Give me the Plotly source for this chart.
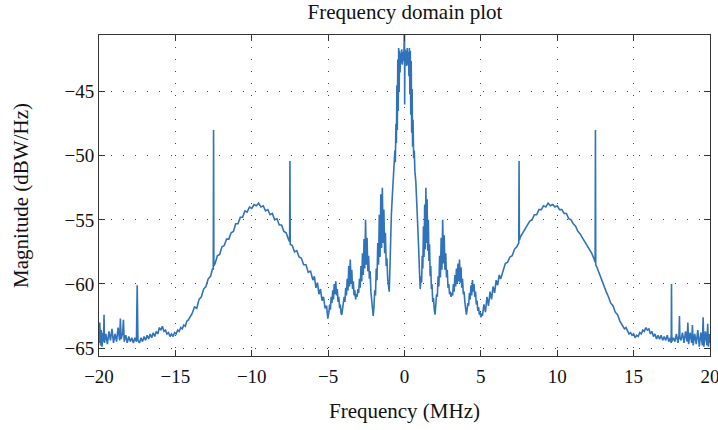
import plotly.graph_objects as go

# ---- data (frequency in MHz, magnitude in dBW/Hz) ----
freq_floor_left = [-20.0, -19.95, -19.9, -19.85, -19.8, -19.75, -19.7, -19.67, -19.64, -19.55,
                   -19.45, -19.35, -19.25, -19.15, -19.05, -18.95, -18.85, -18.75, -18.65, -18.6,
                   -18.55, -18.45, -18.4, -18.35, -18.25, -18.15, -18.05, -17.95, -17.85, -17.75,
                   -17.65, -17.55, -17.5, -17.45, -17.35, -17.25, -17.15, -17.05, -16.95, -16.85,
                   -16.75, -16.65, -16.55, -16.45, -16.35, -16.25, -16.15, -16.05, -15.95, -15.85,
                   -15.75, -15.65, -15.55, -15.45, -15.35, -15.25, -15.15, -15.05, -14.95, -14.85,
                   -14.75, -14.65, -14.55, -14.45, -14.35, -14.25, -14.15]
mag_floor_left = [-64.6, -63.0, -64.8, -63.6, -64.9, -63.8, -64.5, -62.4, -64.6, -63.9,
                  -64.7, -63.7, -64.4, -63.5, -64.6, -63.9, -64.5, -63.4, -64.4, -62.7,
                  -64.3, -63.8, -62.8, -64.5, -64.0, -64.6, -64.1, -64.5, -64.2, -64.6,
                  -64.2, -64.5, -60.1, -64.4, -64.6, -64.2, -64.5, -64.1, -64.4, -64.0,
                  -64.3, -63.9, -64.2, -63.8, -64.1, -63.7, -63.9, -63.4, -63.6, -63.3,
                  -63.7, -63.6, -63.9, -63.8, -64.1, -63.9, -64.1, -63.8, -63.9, -63.6,
                  -63.7, -63.4, -63.5, -63.2, -63.3, -62.9, -62.8]

freq_hump_left = [-14.05, -13.9, -13.75, -13.6, -13.45, -13.3, -13.15, -13.0, -12.85, -12.7,
                  -12.56, -12.52, -12.5, -12.48, -12.4, -12.25, -12.1, -11.95, -11.8, -11.65,
                  -11.5, -11.35, -11.2, -11.05, -10.9, -10.75, -10.6, -10.45, -10.3, -10.15,
                  -10.0, -9.85, -9.7, -9.55, -9.4, -9.25, -9.1, -8.95, -8.8, -8.65,
                  -8.5, -8.35, -8.2, -8.05, -7.9, -7.75, -7.6, -7.52, -7.5, -7.48,
                  -7.35, -7.2, -7.05, -6.9, -6.75, -6.6, -6.45, -6.3, -6.15, -6.0,
                  -5.9, -5.8, -5.7, -5.6, -5.5, -5.4, -5.3, -5.2, -5.1, -5.02]
mag_hump_left = [-62.6, -62.3, -61.8, -61.9, -61.2, -61.0, -60.4, -60.2, -59.6, -59.4,
                 -58.8, -58.9, -48.0, -58.6, -58.4, -57.8, -57.7, -57.1, -57.0, -56.5,
                 -56.5, -56.0, -55.9, -55.3, -55.3, -54.8, -54.8, -54.3, -54.4, -54.0,
                 -54.1, -53.8, -53.9, -53.7, -54.0, -53.9, -54.3, -54.2, -54.6, -54.5,
                 -55.0, -54.9, -55.4, -55.4, -55.9, -56.0, -56.5, -56.7, -50.4, -56.9,
                 -57.0, -57.5, -57.4, -57.9, -58.0, -58.5, -58.5, -59.1, -59.0, -59.7,
                 -59.4, -60.3, -59.9, -60.8, -60.4, -61.3, -61.0, -61.9, -61.7, -62.7]

freq_side_left = [-4.95, -4.9, -4.85, -4.8, -4.75, -4.7, -4.65, -4.6, -4.55, -4.5,
                  -4.45, -4.4, -4.35, -4.3, -4.25, -4.2, -4.15, -4.1,
                  -4.05, -4.0, -3.95, -3.9, -3.85, -3.8, -3.75, -3.7, -3.65, -3.6,
                  -3.55, -3.5, -3.45, -3.4, -3.35, -3.3, -3.25, -3.2, -3.15, -3.1,
                  -3.05, -3.0, -2.95, -2.9, -2.85, -2.8, -2.75, -2.7, -2.65, -2.6,
                  -2.55, -2.5, -2.45, -2.4, -2.35, -2.3, -2.25, -2.2, -2.15, -2.1, -2.05,
                  -2.0, -1.95, -1.9, -1.85, -1.8, -1.75, -1.7, -1.65, -1.6, -1.55,
                  -1.5, -1.45, -1.4, -1.35, -1.3, -1.25, -1.2, -1.15, -1.1, -1.05]
mag_side_left = [-62.2, -61.6, -62.0, -61.0, -61.5, -60.5, -61.2, -60.0, -60.8, -59.8,
                 -60.9, -60.4, -61.4, -61.0, -61.9, -61.6, -62.3, -62.4,
                 -61.9, -61.5, -61.0, -61.4, -60.3, -60.9, -59.6, -60.5, -58.6, -60.2,
                 -58.1, -60.0, -58.9, -60.4, -59.8, -60.9, -60.5, -61.2, -60.8, -61.0,
                 -60.4, -60.7, -59.6, -60.3, -58.6, -59.8, -57.6, -59.3, -56.5, -58.8,
                 -55.0, -58.5, -56.4, -59.0, -57.8, -59.6, -59.0, -60.6, -61.5, -62.0, -62.5,
                 -61.8, -60.5, -60.9, -58.8, -59.7, -56.8, -58.5, -54.6, -57.9, -53.0,
                 -57.2, -52.5, -56.8, -54.2, -57.6, -56.0, -58.6, -58.0, -59.6, -60.0]

freq_main = [-1.0, -0.96, -0.92, -0.86, -0.8, -0.74, -0.68, -0.63, -0.6, -0.56,
             -0.53, -0.5, -0.47, -0.44, -0.41, -0.38, -0.35, -0.32, -0.29, -0.26,
             -0.22, -0.18, -0.14, -0.1, -0.06, -0.03, -0.01, 0.0, 0.01, 0.03,
             0.06, 0.1, 0.14, 0.18, 0.22, 0.26, 0.29, 0.32, 0.35, 0.38,
             0.41, 0.44, 0.47, 0.5, 0.53, 0.56, 0.6, 0.64, 0.68, 0.74,
             0.8, 0.86, 0.92, 0.98, 1.03]
mag_main = [-60.6, -59.0, -56.8, -54.6, -53.2, -51.8, -50.6, -49.6, -50.5, -47.5,
            -49.0, -44.5, -48.0, -42.5, -46.5, -41.6, -45.0, -41.8, -43.5, -42.0,
            -42.8, -41.7, -42.9, -41.9, -42.6, -41.6, -46.0, -39.0, -46.0, -41.7,
            -42.5, -41.8, -43.0, -41.6, -42.9, -41.9, -43.8, -41.6, -45.2, -41.8,
            -46.8, -42.6, -48.2, -44.8, -49.3, -47.2, -50.2, -49.6, -51.2, -52.0,
            -53.6, -55.0, -57.0, -59.0, -60.4]

freq_side_right = [1.08, 1.12, 1.16, 1.2, 1.24, 1.28, 1.32, 1.36, 1.4, 1.44,
                   1.48, 1.52, 1.56, 1.6, 1.64, 1.68, 1.72, 1.76, 1.8, 1.85, 1.9, 1.95, 2.0,
                   2.05, 2.1, 2.15, 2.2, 2.25, 2.3, 2.35, 2.4, 2.45, 2.5,
                   2.55, 2.6, 2.65, 2.7, 2.75, 2.8, 2.85, 2.9, 2.95, 3.0, 3.05,
                   3.1, 3.15, 3.2, 3.25, 3.3, 3.35, 3.4, 3.45, 3.5, 3.55,
                   3.6, 3.65, 3.7, 3.75, 3.8, 3.85, 3.9, 3.95, 4.0, 4.05,
                   4.1, 4.15, 4.2, 4.25, 4.3, 4.35, 4.4, 4.45, 4.5, 4.55,
                   4.6, 4.65, 4.7, 4.75, 4.8, 4.85, 4.9, 4.95, 5.0, 5.05, 5.1, 5.15]
mag_side_right = [-59.4, -59.9, -57.8, -58.8, -55.5, -57.9, -53.8, -57.3, -52.5, -56.8,
                  -53.4, -57.4, -55.0, -58.2, -56.9, -59.4, -58.6, -60.4, -60.0, -61.4, -61.1, -62.0, -62.4,
                  -61.6, -60.8, -61.0, -59.4, -60.2, -57.8, -59.5, -56.4, -58.9, -55.0,
                  -58.4, -56.2, -58.9, -57.6, -59.5, -58.9, -60.3, -60.0, -60.8, -60.6, -61.0,
                  -60.7, -60.9, -60.0, -60.6, -59.3, -60.2, -58.8, -60.0, -58.4, -59.8,
                  -58.1, -59.9, -58.7, -60.3, -59.6, -60.8, -60.6, -61.4, -61.8, -62.4,
                  -62.0, -61.5, -61.7, -60.7, -61.2, -60.1, -60.9, -59.7, -60.6, -60.0,
                  -61.0, -60.6, -61.6, -61.3, -62.1, -61.8, -62.4, -62.2, -62.6, -62.3, -62.5, -61.9]

freq_hump_right = [5.2, 5.3, 5.4, 5.5, 5.6, 5.7, 5.8, 5.9, 6.0, 6.1,
                   6.2, 6.3, 6.45, 6.6, 6.75, 6.9, 7.05, 7.2, 7.35, 7.48,
                   7.5, 7.52, 7.6, 7.75, 7.9, 8.05, 8.2, 8.35, 8.5, 8.65,
                   8.8, 8.95, 9.1, 9.25, 9.4, 9.55, 9.7, 9.85, 10.0, 10.15,
                   10.3, 10.45, 10.6, 10.75, 10.9, 11.05, 11.2, 11.35, 11.5, 11.65,
                   11.8, 11.95, 12.1, 12.25, 12.4, 12.48, 12.5, 12.52, 12.6, 12.75,
                   12.9, 13.05, 13.2, 13.35, 13.5, 13.65, 13.8, 13.95, 14.1, 14.25, 14.4, 14.5]
mag_hump_right = [-61.6, -62.2, -61.0, -61.7, -60.6, -61.2, -60.2, -60.7, -59.7, -60.1,
                  -59.3, -59.6, -59.0, -58.4, -58.3, -57.9, -57.8, -57.3, -57.1, -56.8,
                  -50.4, -56.6, -56.3, -56.0, -55.7, -55.5, -55.1, -55.0, -54.6, -54.6,
                  -54.2, -54.2, -53.9, -54.0, -53.7, -53.9, -53.8, -54.0, -53.9, -54.2,
                  -54.2, -54.5, -54.5, -54.9, -55.0, -55.3, -55.5, -55.9, -56.1, -56.4,
                  -56.7, -57.0, -57.2, -57.6, -58.0, -58.3, -48.0, -58.5, -58.7, -59.2,
                  -59.7, -60.1, -60.6, -61.0, -61.5, -61.7, -62.2, -62.4, -62.9, -63.2, -63.5, -63.4]

freq_floor_right = [14.6, 14.7, 14.8, 14.9, 15.0, 15.1, 15.2, 15.3, 15.4, 15.5,
                    15.6, 15.7, 15.8, 15.9, 16.0, 16.1, 16.2, 16.3, 16.4, 16.5,
                    16.6, 16.7, 16.8, 16.9, 17.0, 17.1, 17.2, 17.3, 17.4, 17.46,
                    17.48, 17.5, 17.6, 17.7, 17.8, 17.9, 17.97, 18.0, 18.03, 18.1,
                    18.2, 18.3, 18.4, 18.5, 18.55, 18.6, 18.7, 18.8, 18.85, 18.9,
                    19.0, 19.1, 19.2, 19.3, 19.4, 19.5, 19.55, 19.6, 19.7, 19.8,
                    19.85, 19.9, 19.95, 20.0]
mag_floor_right = [-63.7, -63.9, -63.8, -64.0, -63.9, -64.2, -64.0, -64.1, -63.8, -63.9,
                   -63.6, -63.7, -63.4, -63.6, -63.5, -63.9, -63.7, -64.1, -63.9, -64.3,
                   -64.0, -64.3, -64.0, -64.4, -64.1, -64.4, -64.0, -64.5, -64.2, -64.6,
                   -60.0, -64.5, -64.2, -64.5, -63.9, -64.6, -64.0, -62.5, -64.2, -64.4,
                   -63.8, -64.6, -63.7, -64.5, -63.0, -64.7, -63.8, -64.6, -63.2, -64.8,
                   -63.9, -64.7, -63.6, -64.9, -63.8, -64.8, -62.6, -64.9, -63.7, -64.8,
                   -63.1, -64.9, -63.9, -64.6]

freq = (freq_floor_left + freq_hump_left + freq_side_left + freq_main
        + freq_side_right + freq_hump_right + freq_floor_right)
mag = (mag_floor_left + mag_hump_left + mag_side_left + mag_main
       + mag_side_right + mag_hump_right + mag_floor_right)

x_ticks = [-20, -15, -10, -5, 0, 5, 10, 15, 20]
y_ticks = [-65, -60, -55, -50, -45]

FONT = "Liberation Serif, Times New Roman, serif"
LINE_COLOR = "#3173ba"
AXIS_COLOR = "#333333"
TEXT_COLOR = "#111111"

fig = go.Figure()
fig.add_trace(go.Scatter(x=freq, y=mag, mode="lines",
                         line=dict(color=LINE_COLOR, width=1.6),
                         showlegend=False, hoverinfo="skip"))

axis_common = dict(
    showline=True, linecolor=AXIS_COLOR, linewidth=1, mirror="ticks",
    ticks="inside", ticklen=6, tickcolor=AXIS_COLOR, tickwidth=1,
    showgrid=True, gridcolor="#444444", gridwidth=1, griddash="1px,11px",
    zeroline=False, automargin=False, ticklabeloverflow="allow",
    tickfont=dict(family=FONT, size=19, color=TEXT_COLOR),
)

fig.update_layout(
    width=718, height=430,
    margin=dict(l=99, r=8, t=35, b=74),
    paper_bgcolor="white", plot_bgcolor="white",
    title=dict(text="Frequency domain plot", x=405 / 718, xanchor="center",
               y=1 - 12 / 430, yanchor="middle",
               font=dict(family=FONT, size=21, color=TEXT_COLOR)),
    xaxis=dict(range=[-20, 20.0001], tickvals=x_ticks, ticklabelstandoff=3,
               title=dict(text="Frequency (MHz)", standoff=17,
                          font=dict(family=FONT, size=21, color=TEXT_COLOR)),
               **axis_common),
    yaxis=dict(range=[-65.62, -40.58], tickvals=y_ticks,
               title=dict(text="Magnitude (dBW/Hz)", standoff=30,
                          font=dict(family=FONT, size=21, color=TEXT_COLOR)),
               **axis_common),
)

fig.write_html("out.html")
